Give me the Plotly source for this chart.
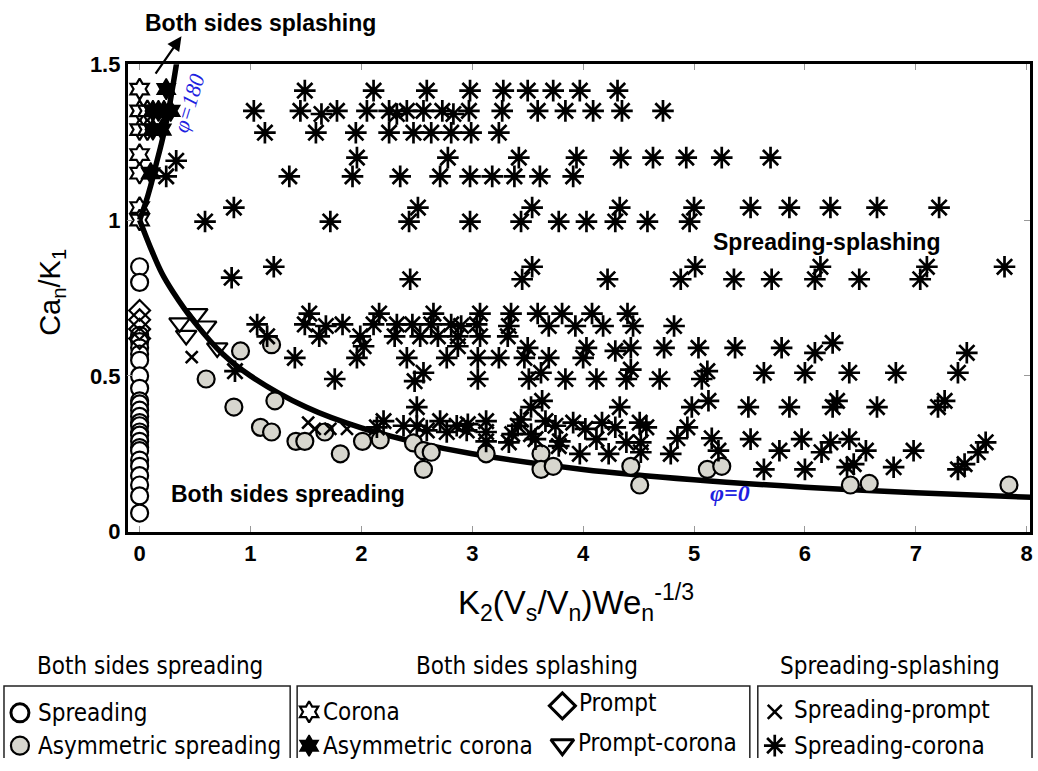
import plotly.graph_objects as go

# ---------------- data ----------------
# Both sides spreading
spreading_x = [0] * 26
spreading_y = [0.85, 0.80, 0.63, 0.61, 0.59, 0.57, 0.55, 0.50, 0.46, 0.42, 0.41, 0.39, 0.37,
               0.35, 0.34, 0.32, 0.31, 0.29, 0.27, 0.26, 0.23, 0.21, 0.18, 0.15, 0.115, 0.06]

asym_spreading_x = [0.60, 0.91, 1.19, 0.85, 1.22, 1.09, 1.19, 1.41, 1.49, 1.67, 1.81, 2.01, 2.17,
                    2.47, 2.56, 2.63, 2.56, 3.125, 3.62, 3.62, 3.73, 4.43, 4.51, 5.12, 5.25,
                    6.41, 6.58, 7.84]
asym_spreading_y = [0.49, 0.58, 0.60, 0.40, 0.42, 0.335, 0.32, 0.29, 0.29, 0.32, 0.25, 0.29, 0.295,
                    0.285, 0.26, 0.255, 0.20, 0.25, 0.25, 0.20, 0.21, 0.21, 0.15, 0.20, 0.21,
                    0.15, 0.155, 0.15]

# Both sides splashing
corona_x = [0, 0, 0, 0, 0, 0, 0, 0.07, 0.07]
corona_y = [1.42, 1.35, 1.29, 1.21, 1.15, 1.04, 1.0, 1.35, 1.29]

asym_corona_x = [0.24, 0.12, 0.17, 0.22, 0.28, 0.12, 0.20, 0.10]
asym_corona_y = [1.42, 1.35, 1.35, 1.35, 1.35, 1.29, 1.29, 1.15]

prompt_x = [0, 0, 0, 0]
prompt_y = [0.71, 0.68, 0.65, 0.62]

prompt_corona_x = [0.36, 0.42, 0.52, 0.60, 0.70]
prompt_corona_y = [0.67, 0.63, 0.70, 0.66, 0.59]

# Spreading-splashing
spreading_prompt_x = [0.47, 1.52, 1.58, 1.72, 1.87]
spreading_prompt_y = [0.56, 0.35, 0.33, 0.33, 0.33]

spreading_corona_pts = [
    (0.33, 1.19), (0.24, 1.14),
    (1.03, 1.35), (1.13, 1.28), (1.49, 1.415), (1.45, 1.35), (1.64, 1.34), (1.78, 1.35),
    (1.59, 1.28), (2.05, 1.35), (1.95, 1.28), (1.96, 1.20), (1.92, 1.14), (1.35, 1.14),
    (0.85, 1.04), (0.59, 0.995), (1.72, 0.995), (1.21, 0.85), (0.83, 0.815),
    (2.11, 1.415), (2.59, 1.415), (2.98, 1.415), (3.28, 1.415), (3.50, 1.415), (3.73, 1.415),
    (3.97, 1.415), (4.31, 1.415),
    (2.25, 1.35), (2.32, 1.34), (2.41, 1.35), (2.56, 1.35), (2.73, 1.35), (2.83, 1.34),
    (2.97, 1.35), (3.27, 1.35), (3.59, 1.35), (3.84, 1.35), (4.09, 1.35), (4.35, 1.35), (4.72, 1.35),
    (2.25, 1.28), (2.47, 1.28), (2.63, 1.28), (2.81, 1.28), (2.99, 1.28), (3.24, 1.28),
    (2.78, 1.20), (3.42, 1.20), (3.94, 1.20), (4.34, 1.20), (4.63, 1.20), (4.93, 1.20),
    (5.25, 1.20), (5.69, 1.20),
    (2.35, 1.14), (2.71, 1.14), (2.98, 1.14), (3.18, 1.14), (3.38, 1.14), (3.61, 1.14), (3.91, 1.14),
    (2.51, 1.04), (3.54, 1.04), (4.33, 1.04), (5.00, 1.04), (5.51, 1.04), (5.86, 1.04),
    (6.23, 1.04), (6.65, 1.04), (7.21, 1.04),
    (2.43, 0.995), (2.98, 0.995), (3.44, 0.995), (3.78, 0.995), (4.03, 0.995), (4.29, 0.995),
    (4.58, 0.995), (4.96, 0.995),
    (3.54, 0.85), (5.01, 0.85), (6.14, 0.85), (7.10, 0.85), (7.80, 0.85),
    (2.44, 0.81), (3.45, 0.81), (4.22, 0.81), (4.88, 0.81), (5.36, 0.81), (5.70, 0.81),
    (6.09, 0.81), (6.49, 0.81), (7.04, 0.81),
    (1.53, 0.70), (2.16, 0.70), (2.65, 0.70), (3.07, 0.70), (3.35, 0.70), (3.59, 0.70),
    (3.81, 0.70), (4.08, 0.70), (4.40, 0.70),
    (1.06, 0.665), (1.49, 0.665), (1.83, 0.665), (2.11, 0.665), (2.32, 0.665), (2.46, 0.665),
    (2.63, 0.665), (2.81, 0.665), (3.04, 0.665),
    (1.68, 0.66), (2.90, 0.66), (3.33, 0.66), (3.69, 0.66), (3.93, 0.66), (4.18, 0.66),
    (4.45, 0.66), (4.82, 0.66),
    (1.15, 0.627), (1.62, 0.627), (1.99, 0.627), (2.30, 0.627), (2.53, 0.627), (2.69, 0.627),
    (2.87, 0.627), (3.07, 0.627), (3.32, 0.627),
    (2.02, 0.595), (2.87, 0.595), (3.50, 0.59), (4.03, 0.59), (4.43, 0.59), (4.73, 0.59),
    (5.04, 0.59), (5.37, 0.59), (5.79, 0.59), (4.29, 0.58), (6.09, 0.574), (6.25, 0.606),
    (7.46, 0.574),
    (1.40, 0.558), (1.96, 0.558), (2.41, 0.558), (2.77, 0.558), (3.05, 0.558), (3.24, 0.558),
    (3.47, 0.558), (3.69, 0.558), (4.00, 0.558),
    (0.86, 0.515),
    (2.56, 0.51), (3.62, 0.51), (4.43, 0.52), (5.12, 0.515), (5.63, 0.51), (6.00, 0.51),
    (6.40, 0.51), (6.82, 0.51), (7.38, 0.51),
    (1.76, 0.49), (2.48, 0.483), (3.05, 0.49), (3.51, 0.49), (3.84, 0.49), (4.12, 0.49),
    (4.39, 0.49), (4.69, 0.49), (5.07, 0.49),
    (3.63, 0.42), (5.13, 0.42), (6.29, 0.42), (7.26, 0.42),
    (2.50, 0.40), (3.53, 0.40), (4.33, 0.40), (4.98, 0.40), (5.49, 0.40), (5.86, 0.40),
    (6.25, 0.40), (6.65, 0.40), (7.20, 0.40),
    (2.20, 0.355), (2.14, 0.335), (2.38, 0.34), (2.50, 0.34), (2.59, 0.325), (2.71, 0.355),
    (2.77, 0.32), (2.86, 0.34), (2.95, 0.325), (2.96, 0.345), (3.125, 0.355), (3.125, 0.32),
    (3.125, 0.29), (3.33, 0.287), (3.36, 0.313), (3.41, 0.34), (3.44, 0.36), (3.57, 0.297),
    (3.66, 0.355), (3.75, 0.34), (3.53, 0.313), (3.78, 0.275), (3.79, 0.29), (3.91, 0.35),
    (4.02, 0.33), (4.17, 0.35), (4.12, 0.297), (4.29, 0.335), (3.97, 0.25), (4.23, 0.25),
    (4.39, 0.287), (4.51, 0.35), (4.57, 0.335), (4.52, 0.287), (4.52, 0.255), (4.79, 0.25),
    (4.85, 0.30), (4.94, 0.335), (5.16, 0.30), (5.22, 0.26), (5.51, 0.297), (5.63, 0.20),
    (5.77, 0.26), (5.97, 0.297), (6.00, 0.20), (6.15, 0.255), (6.23, 0.287), (6.40, 0.297),
    (6.55, 0.26), (6.38, 0.207), (6.44, 0.217), (6.80, 0.207), (6.98, 0.26), (7.38, 0.20),
    (7.44, 0.217), (7.56, 0.255), (7.63, 0.287),
]
spreading_corona_x = [p[0] for p in spreading_corona_pts]
spreading_corona_y = [p[1] for p in spreading_corona_pts]

# boundary curves
phi0_x = [0, 0.1, 0.2, 0.3, 0.5, 0.75, 1, 1.5, 2, 2.5, 3, 4, 5, 6, 7, 8.1]
phi0_y = [1.0, 0.91, 0.83, 0.77, 0.67, 0.57, 0.5, 0.4, 0.333, 0.286, 0.25, 0.2, 0.167, 0.143, 0.125, 0.11]
phi180_x = [0, 0.05, 0.1, 0.15, 0.2, 0.25, 0.3, 0.35]
phi180_y = [1.0, 1.05, 1.11, 1.18, 1.25, 1.33, 1.43, 1.54]

x_ticks = [0, 1, 2, 3, 4, 5, 6, 7, 8]
y_ticks = [0, 0.5, 1, 1.5]

# ---------------- figure ----------------
W, H = 1038, 771


def py(t):
    # vertical placement helper (page pixel -> layout pixel)
    return (t - 10.6) / 0.9725


L, R, T, B = 128, 1033, py(63), py(533)
GRAY = "#d7d6ce"
BLUE = "#1f1fe0"
SANS = "Arial, Liberation Sans, sans-serif"
NARROW = "Liberation Sans Narrow, Arial Narrow, DejaVu Sans Condensed, Liberation Sans"
SERIF = "Liberation Serif, Times New Roman, serif"

fig = go.Figure()


def add(x, y, symbol, size, lw=2, fill="black", xa="x", ya="y"):
    fig.add_trace(go.Scatter(
        x=x, y=y, mode="markers", xaxis=xa, yaxis=ya, showlegend=False, cliponaxis=False,
        marker=dict(symbol=symbol, size=size, color=fill, line=dict(color="black", width=lw))))


fig.add_trace(go.Scatter(x=phi0_x, y=phi0_y, mode="lines",
                         line=dict(color="black", width=5.5, shape="spline"), showlegend=False))
fig.add_trace(go.Scatter(x=phi180_x, y=phi180_y, mode="lines",
                         line=dict(color="black", width=5.5, shape="spline"), showlegend=False))

add(spreading_x, spreading_y, "circle", 17, 2.2, fill="white")
add(prompt_x, prompt_y, "diamond-open", 16, 2.2)
add(asym_spreading_x, asym_spreading_y, "circle", 17, 2.2, fill=GRAY)
add(corona_x, corona_y, "hexagram-open", 16, 2.2)
add(asym_corona_x, asym_corona_y, "hexagram", 16, 1.5)
add(prompt_corona_x, prompt_corona_y, "triangle-down-open", 18, 2.2)
add(spreading_prompt_x, spreading_prompt_y, "x-thin-open", 12, 2.6)
add(spreading_corona_x, spreading_corona_y, "asterisk-open", 18, 2.7)

# legend markers (pixel coordinate overlay axes)
add([20], [py(715)], "circle", 18, 3, fill="white", xa="x2", ya="y2")
add([20], [py(748)], "circle", 18, 2.2, fill=GRAY, xa="x2", ya="y2")
add([310], [py(714)], "hexagram-open", 16, 2.2, xa="x2", ya="y2")
add([310], [py(748)], "hexagram", 16, 1.5, xa="x2", ya="y2")
add([564], [py(708)], "diamond-open", 20, 3, xa="x2", ya="y2")
add([564], [py(747)], "triangle-down-open", 20, 3, xa="x2", ya="y2")
add([777], [py(714)], "x-thin-open", 14, 2.6, xa="x2", ya="y2")
add([777], [py(748)], "asterisk-open", 18, 2.7, xa="x2", ya="y2")

ax_common = dict(showgrid=False, zeroline=False, showline=True, linecolor="black", linewidth=2.5,
                 mirror="ticks", ticks="inside", ticklen=6, tickcolor="#999999", tickwidth=1,
                 tickfont=dict(family=SANS, size=22, color="black", weight="bold"))
fig.update_layout(
    width=W, height=H, margin=dict(l=0, r=0, t=0, b=0),
    paper_bgcolor="white", plot_bgcolor="rgba(0,0,0,0)",
    xaxis=dict(domain=[L / W, R / W], range=[-0.108, 8.03], tickvals=x_ticks, anchor="y", **ax_common),
    yaxis=dict(domain=[1 - B / H, 1 - T / H], range=[0, 1.5], tickvals=y_ticks, anchor="x", **ax_common),
    xaxis2=dict(domain=[0, 1], range=[0, W], visible=False, anchor="y2", fixedrange=True),
    yaxis2=dict(domain=[0, 1], range=[H, 0], visible=False, anchor="x2", fixedrange=True),
)


def note(text, x, y, size, xanchor="center", family=SANS, color="black", angle=0, weight="normal"):
    fig.add_annotation(text=text, x=x, y=py(y), xref="x2", yref="y2", showarrow=False, xanchor=xanchor,
                       yanchor="middle", textangle=angle,
                       font=dict(family=family, size=size, color=color, weight=weight))


# axis titles
note("Ca<sub>n</sub>/K<sub>1</sub>", 52, 292, 29, angle=-90)
note("K<sub>2</sub>(V<sub>s</sub>/V<sub>n</sub>)We<sub>n</sub><sup>-1/3</sup>", 578, 604, 33)

# in-plot labels
note("Both sides splashing", 261, 22, 23, weight="bold")
note("Spreading-splashing", 829, 242, 23, weight="bold")
note("Both sides spreading", 289, 495, 23, weight="bold")
note("<i>φ=180</i>", 190, 102, 22, family=SERIF, color=BLUE, angle=-73)
note("<i>φ=0</i>", 732, 494, 24, family=SERIF, color=BLUE, weight="bold")

# arrow
fig.add_annotation(x=182, y=py(35), ax=155, ay=py(74), xref="x2", yref="y2", axref="x2", ayref="y2",
                   text="", showarrow=True, arrowhead=2, arrowsize=1.3, arrowwidth=2.2, arrowcolor="black")

# legend titles, boxes, labels
note("Both sides spreading", 150, 668, 24, family=NARROW)
note("Both sides splashing", 529, 668, 24, family=NARROW)
note("Spreading-splashing", 893, 668, 24, family=NARROW)
for x0, x1 in [(4, 291), (298, 752), (760, 1035)]:
    fig.add_shape(type="rect", xref="x2", yref="y2", x0=x0, x1=x1, y0=py(688), y1=py(790),
                  line=dict(color="#222222", width=1.5))
note("Spreading", 36, 715, 24, xanchor="left", family=NARROW)
note("Asymmetric spreading", 36, 748, 24, xanchor="left", family=NARROW)
note("Corona", 322, 714, 24, xanchor="left", family=NARROW)
note("Asymmetric corona", 322, 748, 24, xanchor="left", family=NARROW)
note("Prompt", 579, 705, 24, xanchor="left", family=NARROW)
note("Prompt-corona", 578, 745, 24, xanchor="left", family=NARROW)
note("Spreading-prompt", 794, 712, 24, xanchor="left", family=NARROW)
note("Spreading-corona", 794, 748, 24, xanchor="left", family=NARROW)

fig.write_html("out.html")
